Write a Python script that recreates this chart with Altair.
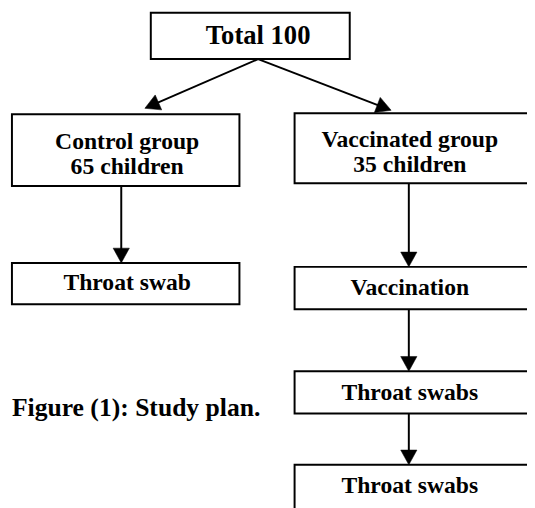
import math
import altair as alt
import pandas as pd

# ---- diagram data (page-pixel coordinate space) ----
labels = ["Total 100", "Control group\n65 children", "Vaccinated group\n35 children",
          "Throat swab", "Vaccination", "Throat swabs", "Throat swabs"]
box_left = [153, 12, 299, 12, 299, 299, 299]
box_right = [355, 243, 548, 243, 548, 548, 548]
box_top = [9, 112, 111, 263, 267, 373, 468]
box_bottom = [56, 185, 182, 305, 310, 416, 522]
label_x = [262, 129, 416, 129, 416, 416, 416]
label_y = [33, 140, 138, 284, 289, 395, 490]

edge_x0 = [262, 262, 123, 415, 415, 415]
edge_y0 = [56, 56, 185, 182, 310, 416]
edge_x1 = [147, 397, 123, 415, 415, 415]
edge_y1 = [106, 108, 263, 267, 373, 468]

caption = ["Figure (1): Study plan."]
caption_x = [12]
caption_y = [410]

# ---- build tables ----
boxes = pd.DataFrame({"label": labels, "x0": box_left, "x1": box_right,
                      "y0": box_top, "y1": box_bottom, "lx": label_x, "ly": label_y})
boxes["idx"] = range(len(boxes))

rows = []
for a, b, c, d in zip(edge_x0, edge_y0, edge_x1, edge_y1):
    dx, dy = c - a, d - b
    L = math.hypot(dx, dy)
    ux, uy = dx / L, dy / L
    ang = math.degrees(math.atan2(-dx, dy)) % 360
    rows.append({"x0": a, "y0": b, "x1": c - 6 * ux, "y1": d - 6 * uy,
                 "tx": c, "ty": d, "angle": ang})
edges = pd.DataFrame(rows)

cap = pd.DataFrame({"text": caption, "x": caption_x, "y": caption_y})

W, H = 527, 500
xs = alt.Scale(domain=[8, 535], nice=False, zero=False, padding=0)
ys = alt.Scale(domain=[8, 508], nice=False, zero=False, padding=0, reverse=True)

FONT = "Liberation Serif"

rects = alt.Chart(boxes).mark_rect(fill="white", stroke="black", strokeWidth=2, clip=False).encode(
    x=alt.X("x0:Q", scale=xs, axis=None), x2="x1:Q",
    y=alt.Y("y0:Q", scale=ys, axis=None), y2="y1:Q",
)

base_text = alt.Chart(boxes).encode(
    x=alt.X("lx:Q", scale=xs, axis=None),
    y=alt.Y("ly:Q", scale=ys, axis=None),
    text="label:N",
)

title_text = base_text.transform_filter("datum.idx == 0").mark_text(
    font=FONT, fontWeight="bold", fontSize=27, baseline="middle", align="center", color="black")

texts = base_text.transform_filter("datum.idx > 0").mark_text(
    font=FONT, fontWeight="bold", fontSize=24, lineBreak="\n", lineHeight=26,
    baseline="middle", align="center", color="black")

lines = alt.Chart(edges).mark_rule(color="black", strokeWidth=2).encode(
    x=alt.X("x0:Q", scale=xs, axis=None), x2="x1:Q",
    y=alt.Y("y0:Q", scale=ys, axis=None), y2="y1:Q",
)

heads = alt.Chart(edges).mark_point(shape="M0,0L-0.55,-1L0.55,-1Z", filled=True, fill="black",
                                    stroke="black", strokeWidth=0.5, opacity=1, size=900).encode(
    x=alt.X("tx:Q", scale=xs, axis=None),
    y=alt.Y("ty:Q", scale=ys, axis=None),
    angle=alt.Angle("angle:Q", scale=None),
)

captxt = alt.Chart(cap).mark_text(font=FONT, fontWeight="bold", fontSize=26, align="left",
                                  baseline="middle", color="black").encode(
    x=alt.X("x:Q", scale=xs, axis=None),
    y=alt.Y("y:Q", scale=ys, axis=None),
    text="text:N",
)

chart = alt.layer(lines, heads, rects, title_text, texts, captxt).properties(
    width=W, height=H, padding=0, autosize="none", background="white"
).configure_view(stroke=None)

chart.save("out.html", embed_options={"renderer": "svg", "actions": False})
